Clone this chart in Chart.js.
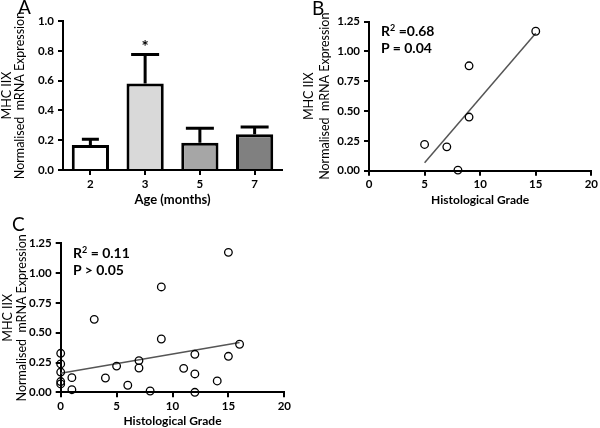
<!DOCTYPE html>
<html>
<head>
<meta charset="utf-8">
<script src="https://cdn.jsdelivr.net/npm/chart.js@4/dist/chart.umd.min.js"></script>
<style>
  html, body { margin:0; padding:0; background:#fff; }
  #wrap { position:relative; width:600px; height:428px; overflow:hidden; font-family: Lato, "Open Sans", sans-serif; }
  .pane { position:absolute; }
  .letter { position:absolute; font-size:19px; color:#000; font-weight:400; line-height:1; }
  .stat { position:absolute; font-size:14px; font-weight:700; color:#000; line-height:1; white-space:nowrap; }
  .stat sup { font-size:9px; position:relative; top:-1px; vertical-align:top; }
</style>
</head>
<body>
<div id="wrap">
  <canvas id="cA" class="pane" width="300" height="210" style="left:0;top:0;"></canvas>
  <canvas id="cB" class="pane" width="300" height="210" style="left:300px;top:0;"></canvas>
  <canvas id="cC" class="pane" width="300" height="218" style="left:0;top:210px;"></canvas>
  <div class="letter" style="left:18px;top:-3px;">A</div>
  <div class="letter" style="left:312px;top:-2px;">B</div>
  <div class="letter" style="left:12px;top:214px;">C</div>
  <div class="stat" style="left:381px;top:24px;">R<sup>2</sup> =0.68</div>
  <div class="stat" style="left:381px;top:41px;">P = 0.04</div>
  <div class="stat" style="left:73px;top:246px;">R<sup>2</sup> = 0.11</div>
  <div class="stat" style="left:73px;top:263px;">P &gt; 0.05</div>
</div>
<script>
// ---- Data ----
const ageCategories = ['2', '3', '5', '7'];
const meanExpression = [0.168, 0.58, 0.183, 0.24];
const semExpression = [0.038, 0.196, 0.097, 0.048];
const significance = ['', '*', '', ''];

const gradeB = [5, 7, 8, 9, 9, 15];
const exprB = [0.22, 0.20, 0.005, 0.88, 0.45, 1.17];
const fitBX = [5, 15];
const fitBY = [0.067, 1.153];

const gradeC = [0, 0, 0, 0, 0, 1, 1, 3, 4, 5, 6, 7, 7, 8, 9, 9, 11, 12, 12, 12, 14, 15, 15, 16];
const exprC = [0.327, 0.238, 0.17, 0.09, 0.07, 0.123, 0.022, 0.612, 0.12, 0.22, 0.059, 0.266, 0.204, 0.011, 0.884, 0.447, 0.201, 0.319, 0.154, 0.0, 0.095, 1.174, 0.302, 0.403];
const fitCX = [0, 16];
const fitCY = [0.159, 0.417];

const yTitleLines = ['MHC IIX', 'Normalised  mRNA Expression'];

// ---- Styles ----
const FONT = 'Lato, "Open Sans", sans-serif';
const barColors = ['#ffffff', '#d9d9d9', '#a6a6a6', '#808080'];
const capWidths = [17, 28, 28, 28];

function fixedSize(w, h) {
  return function (scale) {
    if (w != null) scale.width = w;
    if (h != null) scale.height = h;
  };
}

function axisCommon() {
  return {
    grid: { drawOnChartArea: false, drawTicks: true, tickLength: 5, color: '#000', lineWidth: 2, offset: false },
    border: { display: true, color: '#000', width: 2 },
  };
}

function yAxis(opts) {
  const c = axisCommon();
  return Object.assign({
    type: 'linear',
    min: opts.min, max: opts.max,
    afterFit: fixedSize(opts.width, null),
    ticks: {
      stepSize: opts.step, color: '#000', padding: 4,
      font: { family: FONT, size: 11.5, weight: 'bold' },
      callback: v => Number(v).toFixed(opts.dec)
    },
    title: {
      display: true, text: yTitleLines, color: '#000',
      font: { family: FONT, size: 12.5, weight: 'normal', lineHeight: opts.lh },
      padding: { top: opts.tpad, bottom: 0 }
    }
  }, c);
}

function xAxisTitle(text, size, pb) {
  return {
    display: true, text: text, color: '#000',
    font: { family: FONT, size: size, weight: 'bold', lineHeight: 1.2 },
    padding: { top: 0, bottom: pb }
  };
}

// Error bar plugin
const errorBarPlugin = {
  id: 'errorBars',
  afterDatasetsDraw(chart) {
    const meta = chart.getDatasetMeta(0);
    const ys = chart.scales.y;
    const ctx = chart.ctx;
    ctx.save();
    ctx.strokeStyle = '#000';
    ctx.lineWidth = 3;
    ctx.lineCap = 'butt';
    meta.data.forEach((bar, i) => {
      const top = ys.getPixelForValue(meanExpression[i] + semExpression[i]);
      const base = ys.getPixelForValue(meanExpression[i]);
      const x = bar.x;
      const cw = capWidths[i];
      ctx.beginPath();
      ctx.moveTo(x, base);
      ctx.lineTo(x, top);
      ctx.moveTo(x - cw / 2, top);
      ctx.lineTo(x + cw / 2, top);
      ctx.stroke();
      if (significance[i]) {
        ctx.fillStyle = '#000';
        ctx.font = 'bold 17px ' + FONT;
        ctx.textAlign = 'center';
        ctx.textBaseline = 'middle';
        ctx.fillText(significance[i], x, top - 7);
      }
    });
    ctx.restore();
  }
};

// ---- Panel A ----
new Chart(document.getElementById('cA'), {
  type: 'bar',
  data: {
    labels: ageCategories,
    datasets: [{
      data: meanExpression,
      backgroundColor: barColors,
      borderColor: '#000',
      borderWidth: 3,
      barPercentage: 0.68,
      categoryPercentage: 1.0
    }]
  },
  options: {
    responsive: false, animation: false,
    layout: { padding: { top: 21, right: 18, bottom: 0, left: 0 } },
    plugins: { legend: { display: false }, tooltip: { enabled: false } },
    scales: {
      y: yAxis({ min: 0, max: 1, step: 0.2, dec: 1, width: 63, lh: 1.04, tpad: 0.5 }),
      x: Object.assign({
        type: 'category',
        afterFit: fixedSize(null, 40),
        ticks: { color: '#000', padding: 2, font: { family: FONT, size: 11.5, weight: 'bold' } },
        title: xAxisTitle('Age (months)', 13, 2)
      }, axisCommon())
    }
  },
  plugins: [errorBarPlugin]
});

// ---- Scatter panels ----
function scatterChart(id, xs, ys, fx, fy, pad, yWidth, xHeight, lh, tpad, titlePb) {
  const pts = xs.map((x, i) => ({ x: x, y: ys[i] }));
  const fit = fx.map((x, i) => ({ x: x, y: fy[i] }));
  return new Chart(document.getElementById(id), {
    type: 'scatter',
    data: {
      datasets: [
        {
          type: 'line', data: fit, borderColor: '#555555', borderWidth: 1.5,
          pointRadius: 0, fill: false, clip: false, order: 2
        },
        {
          data: pts, pointStyle: 'circle', pointRadius: 3.8, borderWidth: 1.3,
          borderColor: '#000', backgroundColor: 'rgba(0,0,0,0)', clip: false, order: 1
        }
      ]
    },
    options: {
      responsive: false, animation: false,
      layout: { padding: pad },
      plugins: { legend: { display: false }, tooltip: { enabled: false } },
      scales: {
        y: yAxis({ min: 0, max: 1.25, step: 0.25, dec: 2, width: yWidth, lh: lh, tpad: tpad }),
        x: Object.assign({
          type: 'linear', min: 0, max: 20,
          afterFit: fixedSize(null, xHeight),
          ticks: { stepSize: 5, color: '#000', padding: 2, font: { family: FONT, size: 11.5, weight: 'bold' } },
          title: xAxisTitle('Histological Grade', 12, titlePb)
        }, axisCommon())
      }
    }
  });
}

scatterChart('cB', gradeB, exprB, fitBX, fitBY,
  { top: 21.7, right: 7.3, bottom: 0, left: 0 }, 69, 39.3, 1.28, 1, 3);
scatterChart('cC', gradeC, exprC, fitCX, fitCY,
  { top: 33.3, right: 15.7, bottom: 0, left: 0 }, 60.7, 35.7, 1.16, 0.25, 0);
</script>
</body>
</html>
